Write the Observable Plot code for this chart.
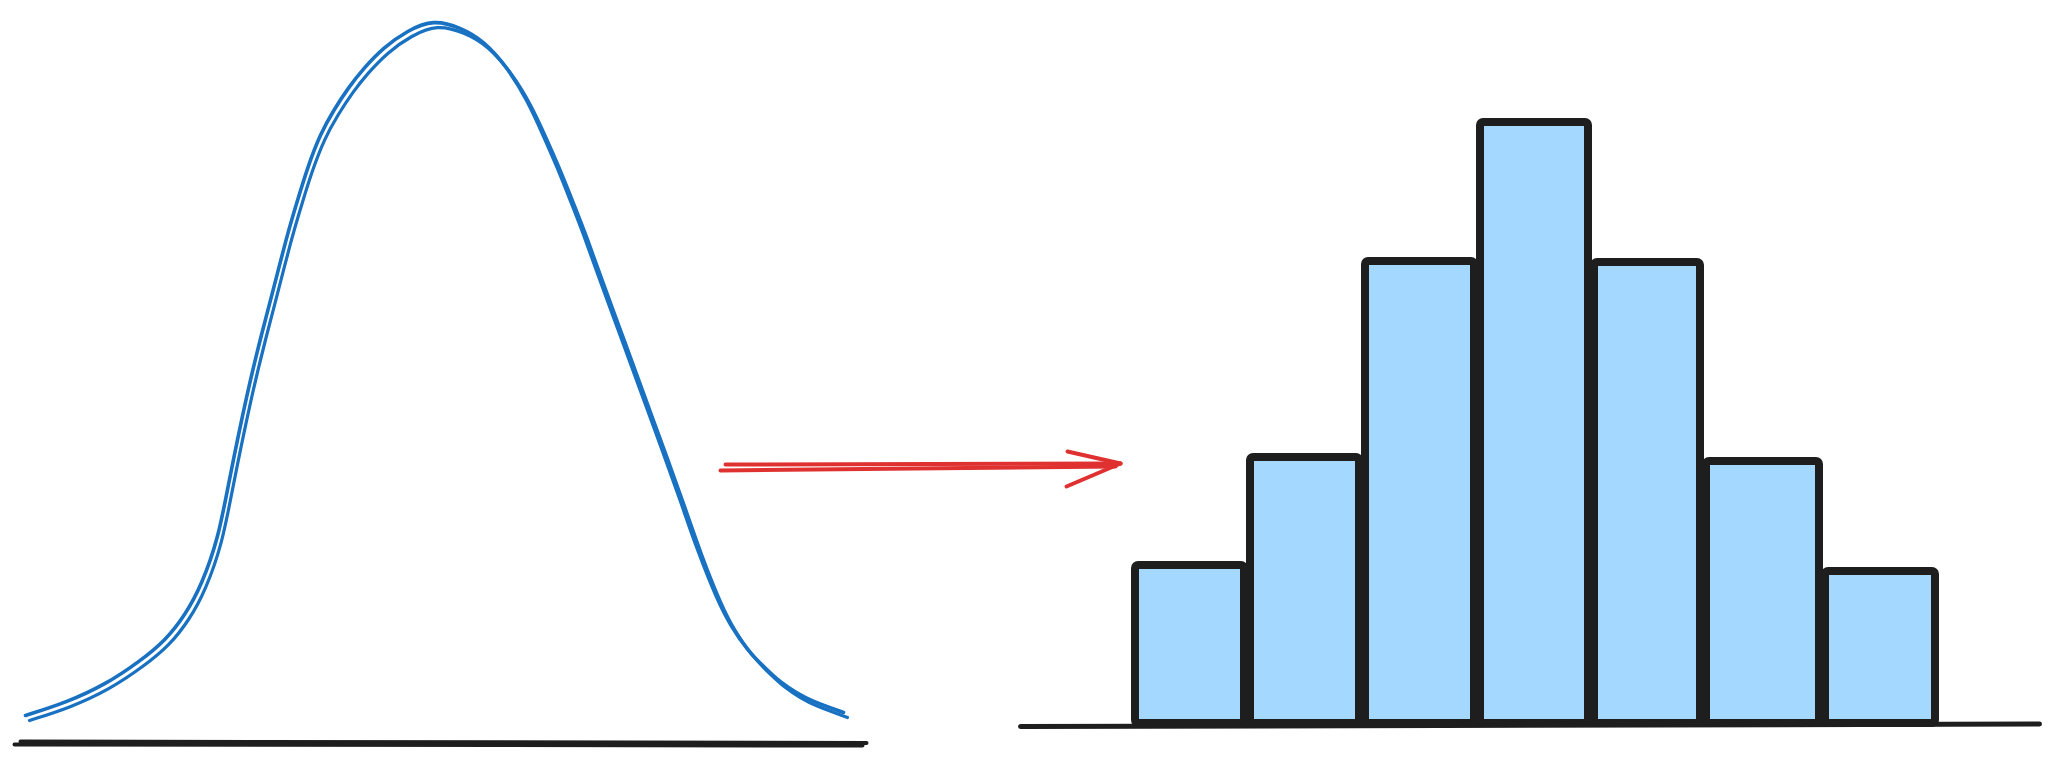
<!DOCTYPE html>
<html>
<head>
<meta charset="utf-8">
<script src="https://cdn.jsdelivr.net/npm/d3@7"></script>
<script src="https://cdn.jsdelivr.net/npm/@observablehq/plot@0.6"></script>
<style>
  html, body { margin: 0; padding: 0; background: #ffffff; overflow: hidden; }
  #chart svg { display: block; }
</style>
</head>
<body>
<div id="chart"></div>
<script>
// ---- Sketch coordinate system: x = horizontal units, y = height above the page bottom ----
// Bell curve
const curveX = [25, 66, 105, 139, 165, 185, 201, 218, 227, 247, 262, 270, 287, 297, 307, 320, 333, 348, 363, 383, 407, 433,
                460, 483, 507, 527, 542, 557, 570, 583, 597, 620, 640, 662, 680, 697, 717, 730, 747, 765, 780, 797, 810, 843];
const curveY = [50, 63, 81, 104, 125, 151, 180, 228, 277, 375, 435, 465, 532, 565, 598, 632, 655, 678, 697, 718, 735, 746,
                738, 725, 698, 665, 632, 598, 565, 532, 492, 430, 375, 315, 265, 215, 165, 140, 115, 97, 83, 72, 65, 53];

// Baseline under the curve (two rough strokes)
const curveBaseX1 = [20, 14];
const curveBaseX2 = [866, 862];
const curveBaseY1 = [24, 21];
const curveBaseY2 = [22.5, 20];

// Histogram
const binEdges = [1132, 1247, 1362, 1477, 1591, 1703, 1822, 1938];
const binCounts = [158, 266, 462, 601, 461, 262, 152];
const histBase = 42;
const histAxisX = [1020, 2039];
const histAxisY = [39, 41.5];

// Arrow (two shaft strokes + two barbs)
const arrowX1 = [725, 720, 1067, 1066];
const arrowY1 = [301, 295, 314, 279];
const arrowX2 = [1120, 1115, 1120, 1120];
const arrowY2 = [302, 299, 302, 302];

const blue = "#1971c2";
const ink = "#1e1e1e";
const red = "#e03131";
const fillBlue = "#a5d8ff";

const curve = curveX.map((x, i) => ({x, y: curveY[i]}));
const curveBase = curveBaseX1.map((x1, i) => ({x1, x2: curveBaseX2[i], y1: curveBaseY1[i], y2: curveBaseY2[i]}));
const bins = binCounts.map((c, i) => ({x1: binEdges[i], x2: binEdges[i + 1], y1: histBase, y2: histBase + c}));
const histAxis = [{x1: histAxisX[0], x2: histAxisX[1], y1: histAxisY[0], y2: histAxisY[1]}];
const arrow = arrowX1.map((x1, i) => ({x1, y1: arrowY1[i], x2: arrowX2[i], y2: arrowY2[i]}));

const chart = Plot.plot({
  width: 2058,
  height: 765,
  margin: 0,
  x: {domain: [0, 2058], axis: null},
  y: {domain: [0, 765], axis: null},
  marks: [
    // bell curve, double rough stroke
    Plot.line(curve, {x: "x", y: "y", stroke: blue, strokeWidth: 3.6, curve: "basis", strokeLinecap: "round"}),
    Plot.line(curve, {x: "x", y: "y", stroke: blue, strokeWidth: 3.2, curve: "basis", dx: 4, dy: 5, strokeLinecap: "round"}),
    // baseline under curve
    Plot.link(curveBase, {x1: "x1", x2: "x2", y1: "y1", y2: "y2", stroke: ink, strokeWidth: 4, strokeLinecap: "round"}),
    // histogram axis
    Plot.link(histAxis, {x1: "x1", x2: "x2", y1: "y1", y2: "y2", stroke: ink, strokeWidth: 5, strokeLinecap: "round"}),
    // histogram bars
    Plot.rect(bins, {x1: "x1", x2: "x2", y1: "y1", y2: "y2", fill: fillBlue, stroke: ink, strokeWidth: 8,
                     insetLeft: 3, insetRight: 3, rx: 3, strokeLinejoin: "round"}),
    // arrow
    Plot.link(arrow, {x1: "x1", y1: "y1", x2: "x2", y2: "y2", stroke: red, strokeWidth: 4, strokeLinecap: "round"})
  ]
});
document.getElementById("chart").appendChild(chart);
</script>
</body>
</html>
